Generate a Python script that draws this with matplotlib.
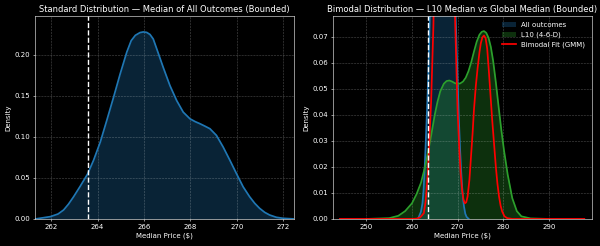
import matplotlib
matplotlib.use("Agg")
import matplotlib.pyplot as plt

# values
global_median = 263.58

# standard distribution KDE (all outcomes)
std_x = [261.33, 261.97, 262.3, 262.54, 262.75, 262.97, 263.26, 263.57, 263.83, 264.12,
         264.4, 264.69, 264.97, 265.26, 265.45, 265.63, 265.83, 265.97, 266.12, 266.26,
         266.4, 266.55, 266.83, 267.12, 267.41, 267.69, 267.98, 268.2, 268.41, 268.62,
         268.84, 269.12, 269.41, 269.7, 269.98, 270.27, 270.55, 270.77, 270.98, 271.2,
         271.41, 271.7, 271.98, 272.45]
std_y = [0.0, 0.0028, 0.006, 0.0109, 0.018, 0.027, 0.040, 0.0545, 0.0714, 0.0936,
         0.120, 0.148, 0.176, 0.203, 0.217, 0.2235, 0.2268, 0.2276, 0.2270, 0.2245,
         0.219, 0.207, 0.1844, 0.1622, 0.144, 0.130, 0.1219, 0.1185, 0.1159, 0.113,
         0.1098, 0.1017, 0.0875, 0.0714, 0.0553, 0.0391, 0.027, 0.019, 0.0129, 0.008,
         0.0048, 0.002, 0.0008, 0.0]

# L10 (4-6-D) KDE
l10_x = [250.0, 255.0, 257.0, 258.5, 260.0, 261.0, 262.0, 263.0, 264.0, 265.0,
         265.6, 266.2, 267.0, 267.6, 268.2, 268.8, 269.4, 270.0, 270.6, 271.2,
         271.8, 272.4, 273.0, 273.6, 274.2, 274.8, 275.3, 275.8, 276.3, 276.8,
         277.3, 277.8, 278.4, 279.0, 279.6, 280.2, 281.0, 282.0, 283.0, 284.0,
         286.0, 290.0]
l10_y = [0.0, 0.0003, 0.0012, 0.003, 0.006, 0.0095, 0.014, 0.021, 0.030, 0.040,
         0.045, 0.049, 0.052, 0.0530, 0.0532, 0.0528, 0.0522, 0.0519, 0.0521, 0.0528,
         0.0543, 0.0568, 0.0602, 0.0643, 0.0681, 0.0708, 0.0719, 0.0722, 0.0715, 0.0696,
         0.0661, 0.0608, 0.0525, 0.0432, 0.0342, 0.0262, 0.0170, 0.0080, 0.0030, 0.0010,
         0.0002, 0.0]

# bimodal GMM fit
gmm_x = [244.2, 250.0, 255.0, 258.0, 260.0, 261.0, 261.8, 262.6, 263.0, 263.5,
         264.2, 264.7, 265.5, 266.3, 267.1, 267.9, 268.7, 269.5, 270.0, 270.4,
         270.7, 271.0, 271.3, 271.6, 271.9, 272.2, 272.6, 272.9, 273.3, 273.6,
         274.0, 274.4, 274.8, 275.1, 275.45, 275.8, 276.15, 276.5, 276.9, 277.25,
         277.6, 278.0, 278.4, 278.75, 279.1, 279.45, 279.8, 280.3, 280.9, 282.0,
         285.0, 290.0, 297.8]
gmm_y = [0.0, 0.0, 0.0, 0.0, 0.00001, 0.0001, 0.0006, 0.0022, 0.0067, 0.018,
         0.045, 0.074, 0.147, 0.223, 0.256, 0.223, 0.147, 0.074, 0.042, 0.026,
         0.017, 0.0110, 0.0075, 0.0060, 0.0064, 0.0086, 0.0150, 0.0227, 0.0330, 0.0420,
         0.0510, 0.0580, 0.0640, 0.0675, 0.0698, 0.0705, 0.0695, 0.0655, 0.0560, 0.0470,
         0.0380, 0.0290, 0.0200, 0.0135, 0.0086, 0.0050, 0.0028, 0.0010, 0.0003, 0.0,
         0.0, 0.0, 0.0]

plt.style.use("dark_background")
fig, (ax1, ax2) = plt.subplots(1, 2, figsize=(12, 4.92), dpi=50)
fig.subplots_adjust(left=0.058, right=0.986, bottom=0.11, top=0.935, wspace=0.15)

blue = "#1f77b4"
green = "#2ca02c"

# left: standard distribution
ax1.fill_between(std_x, std_y, color=blue, alpha=0.3, lw=0)
ax1.plot(std_x, std_y, color=blue, lw=2.5)
ax1.axvline(global_median, color="white", ls="--", lw=2)
ax1.set_xlim(261.3, 272.45)
ax1.set_ylim(0, 0.247)
ax1.set_title("Standard Distribution \u2014 Median of All Outcomes (Bounded)", fontsize=12)
ax1.set_xlabel("Median Price ($)")
ax1.set_ylabel("Density")
ax1.grid(True, ls="--", lw=0.8, alpha=0.3)

# right: bimodal distribution
ax2.fill_between(std_x, std_y, color=blue, alpha=0.3, lw=0, label="All outcomes")
ax2.plot(std_x, std_y, color=blue, lw=2.5)
ax2.fill_between(l10_x, l10_y, color=green, alpha=0.3, lw=0, label="L10 (4-6-D)")
ax2.plot(l10_x, l10_y, color=green, lw=2.5)
ax2.plot(gmm_x, gmm_y, color="red", lw=2.5, label="Bimodal Fit (GMM)")
ax2.axvline(global_median, color="white", ls="--", lw=2)
ax2.set_xlim(242.6, 299.4)
ax2.set_ylim(0, 0.078)
ax2.set_title("Bimodal Distribution \u2014 L10 Median vs Global Median (Bounded)", fontsize=12)
ax2.set_xlabel("Median Price ($)")
ax2.set_ylabel("Density")
ax2.grid(True, ls="--", lw=0.8, alpha=0.3)
ax2.legend(loc="upper right", frameon=False)

fig.savefig("out.png", dpi=50, facecolor="black")
